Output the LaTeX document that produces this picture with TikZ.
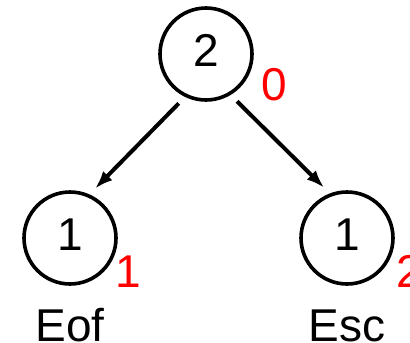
\documentclass[tikz,border=0pt]{standalone}
\usepackage{fontspec}
\setmainfont{Liberation Sans}
\usetikzlibrary{arrows.meta}
\begin{document}
\begin{tikzpicture}[x=1pt,y=-1pt,
  treenode/.style={circle,draw=black,line width=3.6pt,minimum size=92pt,inner sep=0pt,
    font=\fontsize{46}{46}\selectfont,text height=33pt,text depth=9pt},
  weight/.style={anchor=base,text=red,inner sep=0pt,font=\fontsize{46}{46}\selectfont},
  symbol/.style={anchor=base,inner sep=0pt,font=\fontsize{46}{46}\selectfont},
  edge/.style={line width=4pt,-{Latex[length=18pt,width=13pt]},shorten <=9pt,shorten >=8pt}]
\useasboundingbox (0,0) rectangle (410,343);
% the three nodes of the tree
\node[treenode] (root) at (206,54) {2};
\node[treenode] (left) at (70,238) {1};
\node[treenode] (right) at (347,238) {1};
% red numbers beside the nodes
\node[weight] (w0) at (274,100) {0};
\node[weight] (w1) at (128,287) {1};
\node[weight] (w2) at (409,287) {2};
% symbol names under the leaves
\node[symbol] (eof) at (70,341) {Eof};
\node[symbol] (esc) at (347,341) {Esc};
% edges
\draw[edge] (root.-116) -- (left.66);
\draw[edge] (root.-59) -- (right.111);
\end{tikzpicture}
\end{document}
